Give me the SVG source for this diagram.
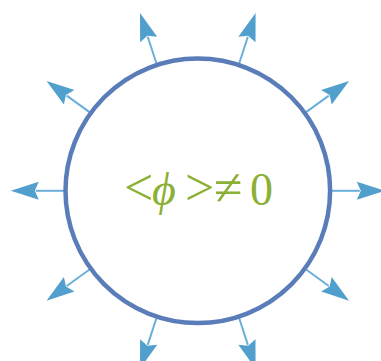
<svg xmlns="http://www.w3.org/2000/svg" width="381" height="361" viewBox="0 0 381 361">
  <style>
    .shaft { stroke: #6aafd9; stroke-width: 2; fill: none; }
    .head { fill: #519fcd; }
    .ring { fill: #ffffff; stroke: #5a7db9; stroke-width: 4.5; }
    .label { font-family: "Liberation Serif", "DejaVu Serif", serif; font-size: 46px; fill: #8cb035; }
    .rel { font-size: 52px; }
  </style>
  <defs>
    <g id="arrow">
      <line class="shaft" x1="133" y1="0" x2="162" y2="0"/>
      <polygon class="head" points="187,0 159,-9 163,0 159,9"/>
    </g>
  </defs>
  <rect width="381" height="361" fill="#ffffff"/>
  <g id="connectors">
    <use href="#arrow" transform="translate(197.8,190.8) rotate(0)"/>
    <use href="#arrow" transform="translate(197.8,190.8) rotate(-36)"/>
    <use href="#arrow" transform="translate(197.8,190.8) rotate(-72)"/>
    <use href="#arrow" transform="translate(197.8,190.8) rotate(-108)"/>
    <use href="#arrow" transform="translate(197.8,190.8) rotate(-144)"/>
    <use href="#arrow" transform="translate(197.8,190.8) rotate(-180)"/>
    <use href="#arrow" transform="translate(197.8,190.8) rotate(-216)"/>
    <use href="#arrow" transform="translate(197.8,190.8) rotate(-252)"/>
    <use href="#arrow" transform="translate(197.8,190.8) rotate(-288)"/>
    <use href="#arrow" transform="translate(197.8,190.8) rotate(-324)"/>
  </g>
  <g id="node-field">
    <circle class="ring" cx="197.8" cy="190.8" r="132.3"/>
    <text class="label" y="205"><tspan class="rel" x="124">&lt;</tspan><tspan x="152" font-style="italic">ϕ</tspan><tspan class="rel" x="185">&gt;</tspan><tspan class="rel" x="214">≠</tspan><tspan x="250">0</tspan></text>
  </g>
</svg>
